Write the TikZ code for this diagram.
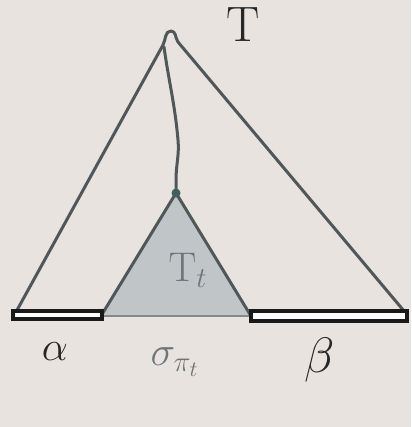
\documentclass[tikz,border=0pt]{standalone}
\usepackage{amsmath}
\definecolor{paper}{HTML}{E8E3DF}
\definecolor{ink}{HTML}{50575A}
\definecolor{fillg}{HTML}{C0C5C8}
\definecolor{lab}{HTML}{6F7679}
\tikzset{
  edge/.style={draw=ink, line width=1.5pt, line join=round, line cap=round},
  barbox/.style={draw=black!90, line width=2.2pt, fill=white!90!paper},
  lbl/.style={inner sep=0pt, text=black!85},
  glbl/.style={inner sep=0pt, text=lab}
}
\begin{document}
\begin{tikzpicture}[x=0.5pt,y=-0.5pt]
\useasboundingbox[fill=paper] (0,0) rectangle (411,427);
% coordinates
\coordinate (top) at (171,31);
\coordinate (bl) at (16,312);
\coordinate (br) at (404,311);
\coordinate (sa) at (176,193);
\coordinate (sl) at (101,316);
\coordinate (sr) at (251,316);
% small triangle
\fill[fillg] (sa) -- (sr) -- (sl) -- cycle;
\draw[edge] (sl) -- (sa) -- (sr);
\draw[draw=ink!70, line width=1.2pt] (sl) -- (sr);
% big triangle sides
\draw[edge] (bl) -- (163,45) to[out=62,in=180] (top) to[out=0,in=125] (178,42) -- (br);
% path to root of subtree
\draw[edge] (164,47) to[out=-82,in=95] (178,140) to[out=-85,in=90] (176,180) -- (sa);
\fill[ink!80!teal] (sa) circle (4.5);
% bars
\draw[barbox] (13,311) rectangle (102,319);
\draw[barbox] (251,311) rectangle (407,321);
% labels
\node[lbl, font=\fontsize{24}{26}\selectfont] (T) at (243,25) {$\mathrm{T}$};
\node[glbl, font=\fontsize{20}{22}\selectfont] (Tt) at (188,270) {$\mathrm{T}_t$};
\node[lbl, font=\fontsize{22}{24}\selectfont] (al) at (55,352) {$\alpha$};
\node[glbl, font=\fontsize{22}{24}\selectfont] (sig) at (175,362) {$\sigma_{\pi_t}$};
\node[lbl, font=\fontsize{24}{26}\selectfont] (be) at (320,360) {$\beta$};
\end{tikzpicture}
\end{document}
